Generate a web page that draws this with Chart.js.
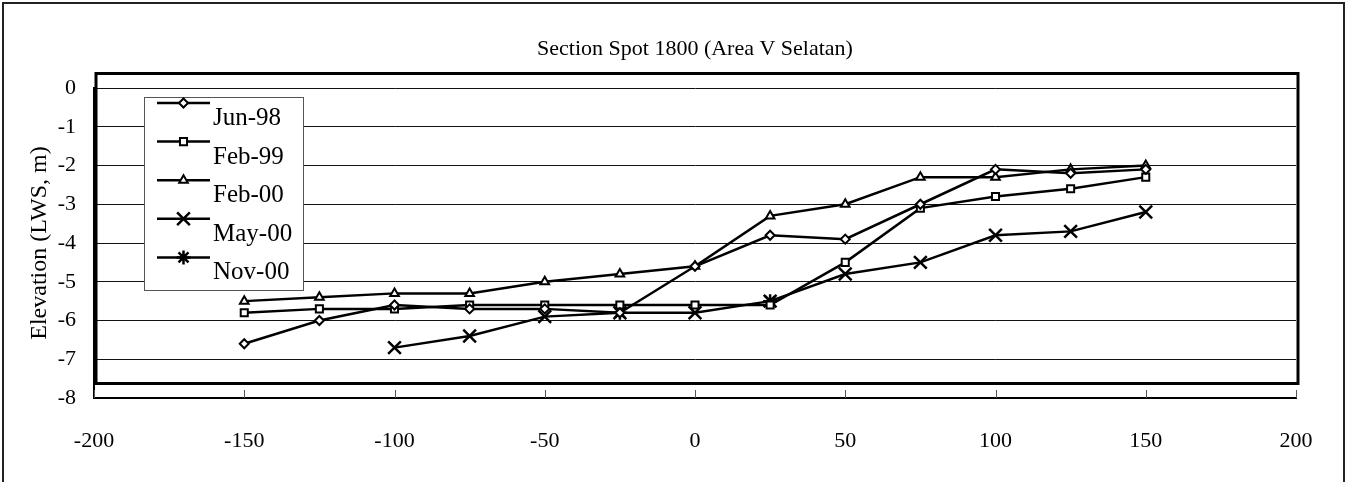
<!DOCTYPE html>
<html>
<head>
<meta charset="utf-8">
<script src="https://cdn.jsdelivr.net/npm/chart.js@4.4.1/dist/chart.umd.min.js"></script>
<style>
  html, body { margin: 0; padding: 0; background: #fff; }
  #wrap { width: 1351px; height: 482px; position: relative; }
</style>
</head>
<body>
<div id="wrap"><canvas id="c" width="1351" height="482"></canvas></div>
<script>
// Survey distances along the section (m) and bed elevations per survey date
const distances = [-150, -125, -100, -75, -50, -25, 0, 25, 50, 75, 100, 125, 150];
const jun98 = [-6.6, -6.0, -5.6, -5.7, -5.7, -5.8, -4.6, -3.8, -3.9, -3.0, -2.1, -2.2, -2.1];
const feb99 = [-5.8, -5.7, -5.7, -5.6, -5.6, -5.6, -5.6, -5.6, -4.5, -3.1, -2.8, -2.6, -2.3];
const feb00 = [-5.5, -5.4, -5.3, -5.3, -5.0, -4.8, -4.6, -3.3, -3.0, -2.3, -2.3, -2.1, -2.0];
const may00 = [null, null, -6.7, -6.4, -5.9, -5.8, -5.8, -5.5, -4.8, -4.5, -3.8, -3.7, -3.2];
const nov00 = [null, null, null, null, null, -5.8, null, -5.5, null, null, null, null, null];

const seriesNames = ['Jun-98', 'Feb-99', 'Feb-00', 'May-00', 'Nov-00'];
const xTickValues = [-200, -150, -100, -50, 0, 50, 100, 150, 200];
const yTickValues = [0, -1, -2, -3, -4, -5, -6, -7, -8];
const chartTitle = 'Section Spot 1800 (Area V Selatan)';
const yAxisTitle = 'Elevation (LWS, m)';

const SERIF = "'Liberation Serif', 'Times New Roman', Times, serif";

const markerStyles = [
  { pointStyle: 'rectRot',  radius: 4.5, borderWidth: 2 },
  { pointStyle: 'rect',     radius: 5,   borderWidth: 2 },
  { pointStyle: 'triangle', radius: 5,   borderWidth: 2 },
  { pointStyle: 'crossRot', radius: 9,   borderWidth: 2.5 },
  { pointStyle: 'star',     radius: 7,   borderWidth: 2.5 }
];

const seriesValues = [jun98, feb99, feb00, may00, nov00];

const datasets = seriesValues.map((vals, k) => ({
  label: seriesNames[k],
  data: distances.map((d, i) => ({ x: d, y: vals[i] })),
  borderColor: '#000',
  borderWidth: 2.5,
  backgroundColor: '#fff',
  pointStyle: markerStyles[k].pointStyle,
  pointRadius: markerStyles[k].radius,
  pointBorderWidth: markerStyles[k].borderWidth,
  pointBorderColor: '#000',
  pointBackgroundColor: '#fff',
  spanGaps: false,
  tension: 0
}));

function drawMarker(ctx, style, x, y) {
  ctx.save();
  ctx.strokeStyle = '#000';
  ctx.fillStyle = '#fff';
  ctx.lineWidth = style.borderWidth;
  if (Chart.helpers && Chart.helpers.drawPoint) {
    Chart.helpers.drawPoint(ctx, { pointStyle: style.pointStyle, radius: style.radius, borderWidth: style.borderWidth, rotation: 0 }, x, y);
  }
  ctx.restore();
}

const decorPlugin = {
  id: 'decor',
  beforeDraw(chart) {
    const ctx = chart.ctx;
    ctx.save();
    ctx.fillStyle = '#fff';
    ctx.fillRect(0, 0, chart.width, chart.height);
    // outer frame (top, left, right)
    ctx.strokeStyle = '#222';
    ctx.lineWidth = 2;
    ctx.beginPath();
    ctx.moveTo(3, chart.height);
    ctx.lineTo(3, 3);
    ctx.lineTo(chart.width - 7, 3);
    ctx.lineTo(chart.width - 7, chart.height);
    ctx.stroke();
    ctx.restore();
  },
  beforeDatasetsDraw(chart) {
    const ctx = chart.ctx;
    const ca = chart.chartArea;
    const xs = chart.scales.x;
    ctx.save();
    // raised plot frame
    ctx.strokeStyle = '#000';
    ctx.lineWidth = 3;
    ctx.strokeRect(ca.left + 2, ca.top - 14.5, ca.right - ca.left, ca.bottom - ca.top);
    // inward tick marks on the distance axis
    ctx.strokeStyle = '#555';
    ctx.lineWidth = 1;
    ctx.beginPath();
    xTickValues.forEach(v => {
      const px = Math.round(xs.getPixelForValue(v)) + 0.5;
      ctx.moveTo(px, ca.bottom - 8);
      ctx.lineTo(px, ca.bottom);
    });
    ctx.stroke();
    ctx.restore();
  },
  afterDraw(chart) {
    const ctx = chart.ctx;
    const ca = chart.chartArea;
    ctx.save();
    // title
    ctx.fillStyle = '#000';
    ctx.font = '22px ' + SERIF;
    ctx.textAlign = 'center';
    ctx.textBaseline = 'alphabetic';
    ctx.fillText(chartTitle, (ca.left + ca.right) / 2, 55);

    // legend
    const lx = 144.5, ly = 97.5, lw = 159, lh = 193;
    ctx.fillStyle = '#fff';
    ctx.fillRect(lx, ly, lw, lh);
    ctx.strokeStyle = '#555';
    ctx.lineWidth = 1;
    ctx.strokeRect(lx, ly, lw, lh);
    const step = 38.6;
    chart.data.datasets.forEach((ds, i) => {
      const yLine = 103 + i * step;
      ctx.strokeStyle = '#000';
      ctx.lineWidth = 2.5;
      ctx.beginPath();
      ctx.moveTo(157, yLine);
      ctx.lineTo(210, yLine);
      ctx.stroke();
      drawMarker(ctx, markerStyles[i], 183.5, yLine);
      ctx.fillStyle = '#000';
      ctx.font = '25px ' + SERIF;
      ctx.textAlign = 'left';
      ctx.textBaseline = 'alphabetic';
      ctx.fillText(ds.label, 213, 125 + i * step);
    });
    ctx.restore();
  }
};

new Chart(document.getElementById('c'), {
  type: 'line',
  data: { datasets },
  plugins: [decorPlugin],
  options: {
    responsive: false,
    animation: false,
    devicePixelRatio: 1,
    layout: { padding: { left: 0, top: 88, right: 55, bottom: 0 } },
    plugins: {
      legend: { display: false },
      title: { display: false },
      tooltip: { enabled: false }
    },
    scales: {
      x: {
        type: 'linear',
        min: -200, max: 200,
        afterBuildTicks(s) { s.ticks = xTickValues.map(v => ({ value: v })); },
        ticks: { padding: 30, color: '#000', font: { family: SERIF, size: 22 }, maxRotation: 0, autoSkip: false },
        grid: { display: false, drawTicks: false },
        border: { display: true, color: '#000', width: 2 },
        afterFit(s) { s.height = 84; }
      },
      y: {
        type: 'linear',
        min: -8, max: 0,
        afterBuildTicks(s) { s.ticks = yTickValues.map(v => ({ value: v })); },
        ticks: { padding: 18, color: '#000', font: { family: SERIF, size: 22 } },
        grid: { color: '#111', lineWidth: 1, drawTicks: false },
        border: { display: true, color: '#000', width: 2 },
        title: { display: true, text: yAxisTitle, color: '#000', font: { family: SERIF, size: 24 }, padding: { top: 25 } },
        afterFit(s) { s.width = 94; }
      }
    }
  }
});
</script>
</body>
</html>
